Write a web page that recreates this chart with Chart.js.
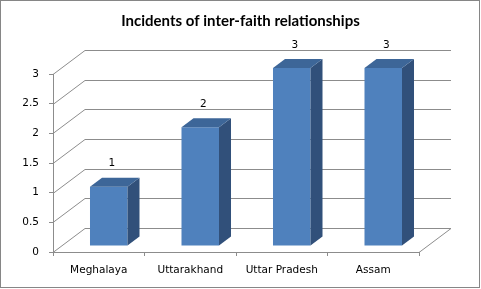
<!DOCTYPE html>
<html>
<head>
<meta charset="utf-8">
<title>Incidents of inter-faith relationships</title>
<script src="https://cdn.jsdelivr.net/npm/chart.js@4.4.1/dist/chart.umd.min.js"></script>
<style>
  html, body { margin: 0; padding: 0; background: #fff; }
  #wrap { width: 481px; height: 289px; }
</style>
</head>
<body>
<div id="wrap"><canvas id="incidentsChart" width="481" height="289"></canvas></div>
<script>
// ===== Chart data =====
const chartTitle = 'Incidents of inter-faith relationships';
const states = ['Meghalaya', 'Uttarakhand', 'Uttar Pradesh', 'Assam'];
const incidents = [1, 2, 3, 3];
const valueAxisMin = 0;
const valueAxisMax = 3;
const valueAxisStep = 0.5;

// ===== Look of the fake 3D chart =====
const frontColor = '#4f81bd';
const topColor = '#3d6698';
const sideColor = '#31507a';
const lineColor = '#8c8c8c';
const tickFont = { family: '"DejaVu Sans", Tahoma, sans-serif', size: 10.5 };

const WALL_DX = 32, WALL_DY = -24;   // depth of the floor / side wall
const BAR_DX = 10, BAR_DY = -6;      // bars sit a bit back from the front edge
const DEPTH_DX = 12, DEPTH_DY = -9;  // depth of each bar

// ===== Walls, gridlines and floor (drawn behind everything) =====
const walls3d = {
    id: 'walls3d',
    beforeDraw(chart) {
        const { ctx, chartArea: a, scales: { y } } = chart;
        ctx.save();
        ctx.strokeStyle = lineColor;
        ctx.lineWidth = 1;
        y.ticks.forEach(t => {
            const py = Math.round(y.getPixelForValue(t.value)) + 0.5;
            ctx.beginPath();
            ctx.moveTo(a.left, py);
            ctx.lineTo(a.left + WALL_DX, py + WALL_DY);
            ctx.lineTo(a.right + WALL_DX, py + WALL_DY);
            ctx.stroke();
        });
        // right edge of the floor
        const base = Math.round(y.getPixelForValue(valueAxisMin)) + 0.5;
        ctx.beginPath();
        ctx.moveTo(a.right, base);
        ctx.lineTo(a.right + WALL_DX, base + WALL_DY);
        ctx.stroke();
        ctx.restore();
    },
    afterDraw(chart) {
        // outer chart border
        const ctx = chart.ctx;
        ctx.save();
        ctx.strokeStyle = '#868686';
        ctx.lineWidth = 1;
        ctx.strokeRect(0.5, 0.5, chart.width - 2, chart.height - 2);
        ctx.restore();
    }
};

// ===== Bars: shift back, add top + side faces, value labels =====
const bars3d = {
    id: 'bars3d',
    beforeDatasetsDraw(chart) {
        chart.ctx.save();
        chart.ctx.translate(BAR_DX, BAR_DY);
    },
    afterDatasetsDraw(chart) {
        const ctx = chart.ctx;
        const meta = chart.getDatasetMeta(0);
        meta.data.forEach(bar => {
            const { x, y, base, width } = bar.getProps(['x', 'y', 'base', 'width'], true);
            const l = x - width / 2, r = x + width / 2;
            // side face
            ctx.fillStyle = sideColor;
            ctx.beginPath();
            ctx.moveTo(r, y);
            ctx.lineTo(r + DEPTH_DX, y + DEPTH_DY);
            ctx.lineTo(r + DEPTH_DX, base + DEPTH_DY);
            ctx.lineTo(r, base);
            ctx.closePath();
            ctx.fill();
            // top face
            ctx.fillStyle = topColor;
            ctx.beginPath();
            ctx.moveTo(l, y);
            ctx.lineTo(l + DEPTH_DX, y + DEPTH_DY);
            ctx.lineTo(r + DEPTH_DX, y + DEPTH_DY);
            ctx.lineTo(r, y);
            ctx.closePath();
            ctx.fill();
        });
        // value labels
        ctx.fillStyle = '#000';
        ctx.font = tickFont.size + 'px ' + tickFont.family;
        ctx.textAlign = 'center';
        ctx.textBaseline = 'middle';
        meta.data.forEach((bar, i) => {
            const { x, y } = bar.getProps(['x', 'y'], true);
            ctx.fillText(String(incidents[i]), x + DEPTH_DX / 4, y - 23);
        });
        ctx.restore();
    }
};

new Chart(document.getElementById('incidentsChart'), {
    type: 'bar',
    data: {
        labels: states,
        datasets: [{
            label: chartTitle,
            data: incidents,
            backgroundColor: frontColor,
            borderWidth: 0,
            categoryPercentage: 1,
            barPercentage: 0.41,
            clip: false
        }]
    },
    options: {
        responsive: false,
        animation: false,
        devicePixelRatio: 1,
        layout: { padding: 0 },
        plugins: {
            legend: { display: false },
            tooltip: { enabled: false },
            title: {
                display: true,
                text: chartTitle,
                color: '#000',
                font: { family: 'Lato, "Liberation Sans", sans-serif', size: 15, weight: 'bold', lineHeight: 1.2 },
                padding: { top: 12, bottom: 44 }
            }
        },
        scales: {
            x: {
                grid: { display: true, drawOnChartArea: false, drawTicks: true, tickLength: 4, color: lineColor },
                border: { display: true, color: lineColor },
                ticks: { color: '#000', font: tickFont, padding: 8, maxRotation: 0 },
                afterFit: scale => { scale.height = 37; }
            },
            y: {
                min: valueAxisMin,
                max: valueAxisMax,
                grid: { display: true, drawOnChartArea: false, drawTicks: true, tickLength: 4, color: lineColor },
                border: { display: true, color: lineColor },
                ticks: {
                    stepSize: valueAxisStep,
                    color: '#000',
                    font: tickFont,
                    padding: 10,
                    callback: v => String(v)
                },
                afterFit: scale => { scale.width = 53; }
            },
            // empty right-hand box: leaves room for the wall depth
            yRoom: {
                position: 'right',
                grid: { display: false },
                border: { display: false },
                ticks: { display: false },
                afterFit: scale => { scale.width = 62; }
            }
        }
    },
    plugins: [walls3d, bars3d]
});
</script>
</body>
</html>
